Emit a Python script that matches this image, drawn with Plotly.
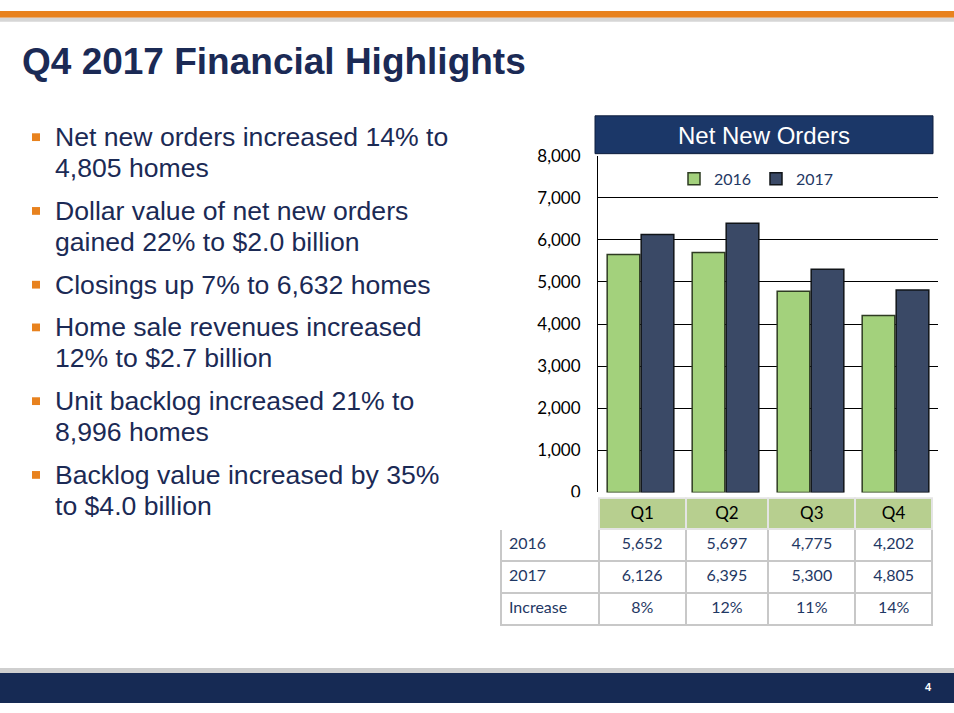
import plotly.graph_objects as go

# chart data
quarters = ["Q1", "Q2", "Q3", "Q4"]
orders_2016 = [5652, 5697, 4775, 4202]
orders_2017 = [6126, 6395, 5300, 4805]
increase = ["8%", "12%", "11%", "14%"]
y_ticks = [0, 1000, 2000, 3000, 4000, 5000, 6000, 7000, 8000]

bullets = [
    ["Net new orders increased 14% to", "4,805 homes"],
    ["Dollar value of net new orders", "gained 22% to $2.0 billion"],
    ["Closings up 7% to 6,632 homes"],
    ["Home sale revenues increased", "12% to $2.7 billion"],
    ["Unit backlog increased 21% to", "8,996 homes"],
    ["Backlog value increased by 35%", "to $4.0 billion"],
]

W, H = 954, 713
NAVY = "#1B2A55"
TXT = "#1F3864"
GREEN = "#A3D17C"
DARK = "#3A4966"
ORANGE = "#E8821E"


def px(x):
    return x / W


def py(y):
    return 1 - y / H


fig = go.Figure()

fig.add_trace(go.Bar(x=quarters, y=orders_2016, name="2016",
                     marker=dict(color=GREEN, line=dict(color="#2E3B22", width=1.5))))
fig.add_trace(go.Bar(x=quarters, y=orders_2017, name="2017",
                     marker=dict(color=DARK, line=dict(color="#101418", width=1.5))))

# the table under the bars
cell_cols = [["2016", "2017", "Increase"]]
for i in range(len(quarters)):
    cell_cols.append([f"{orders_2016[i]:,}", f"{orders_2017[i]:,}", increase[i]])

fig.add_trace(go.Table(
    domain=dict(x=[px(501), px(932)], y=[py(640), py(502)]),
    columnwidth=[98, 87, 83, 87, 77],
    header=dict(values=[""] + quarters,
                fill_color=["white"] + ["#B7CF8F"] * 4,
                line=dict(color=["white"] + ["#E4E4E4"] * 4, width=2),
                font=dict(family="Lato", size=17, color="black"),
                align="center", height=31),
    cells=dict(values=cell_cols,
               fill_color="white",
               line=dict(color="#C8C8C8", width=2),
               font=dict(family="Lato", size=16, color=TXT),
               align=["left", "center", "center", "center", "center"],
               height=32),
))

fig.update_layout(
    width=W, height=H,
    margin=dict(l=0, r=0, t=0, b=0),
    paper_bgcolor="white", plot_bgcolor="white",
    barmode="group", bargap=0.2, bargroupgap=0.04,
    showlegend=True,
    legend=dict(orientation="h", x=px(674), y=py(173), xanchor="left", yanchor="middle",
                entrywidth=37, entrywidthmode="pixels",
                font=dict(family="Lato", size=16, color=TXT), bgcolor="rgba(0,0,0,0)"),
    xaxis=dict(domain=[px(598), px(938)], showticklabels=False, showgrid=False,
               zeroline=False, showline=False),
    yaxis=dict(domain=[py(496), py(149)], range=[0, 8000], tickvals=y_ticks,
               tickformat=",", showgrid=True, gridcolor="black", gridwidth=1,
               showline=True, linecolor="black", linewidth=1,
               zeroline=False, ticks="", ticklabelstandoff=13,
               tickfont=dict(family="Lato", size=17, color="black")),
)

shapes = []
# top orange band with shadow
shapes.append(dict(type="rect", xref="paper", yref="paper", x0=0, x1=1, y0=py(7), y1=1,
                   fillcolor=ORANGE, line_width=0))
shapes.append(dict(type="rect", xref="paper", yref="paper", x0=0, x1=1, y0=py(11), y1=py(7),
                   fillcolor="#D6D6D6", line_width=0))
# bottom navy band with shadow
shapes.append(dict(type="rect", xref="paper", yref="paper", x0=0, x1=1, y0=py(682), y1=py(677),
                   fillcolor="#CFCFCF", line_width=0))
shapes.append(dict(type="rect", xref="paper", yref="paper", x0=0, x1=1, y0=0, y1=py(682),
                   fillcolor="#162A54", line_width=0))
# chart title box
shapes.append(dict(type="rect", xref="paper", yref="paper", x0=px(595), x1=px(933),
                   y0=py(147), y1=py(108), fillcolor="#1B3768",
                   line=dict(color="#0E1E3E", width=1)))

annotations = []
annotations.append(dict(text="<b>Q4 2017 Financial Highlights</b>", xref="paper", yref="paper",
                        x=px(20), y=py(52), xanchor="left", yanchor="middle", showarrow=False,
                        font=dict(family="Liberation Sans", size=37, color=NAVY)))
annotations.append(dict(text="Net New Orders", xref="paper", yref="paper",
                        x=px(764), y=py(128), xanchor="center", yanchor="middle", showarrow=False,
                        font=dict(family="Liberation Sans", size=24, color="white")))
annotations.append(dict(text="<b>4</b>", xref="paper", yref="paper",
                        x=px(928), y=py(697), xanchor="center", yanchor="middle", showarrow=False,
                        font=dict(family="Liberation Sans", size=11, color="white")))

# bullet list
y = 130
for item in bullets:
    shapes.append(dict(type="rect", xref="paper", yref="paper", x0=px(32), x1=px(40),
                       y0=py(y + 4), y1=py(y - 4), fillcolor=ORANGE, line_width=0))
    for line in item:
        annotations.append(dict(text=line, xref="paper", yref="paper",
                                x=px(53), y=py(y), xanchor="left", yanchor="middle",
                                showarrow=False,
                                font=dict(family="Liberation Sans", size=26.6, color=NAVY)))
        y += 32
    y += 12

fig.update_layout(shapes=shapes, annotations=annotations)

# pin the plot to the top-left corner of the page
pin = ("document.body.style.margin='0';"
       "var d=document.getElementById('{plot_id}');"
       "d.style.position='fixed';d.style.left='0';d.style.top='0';")
fig.write_html("out.html", config={"displayModeBar": False}, post_script=pin)
